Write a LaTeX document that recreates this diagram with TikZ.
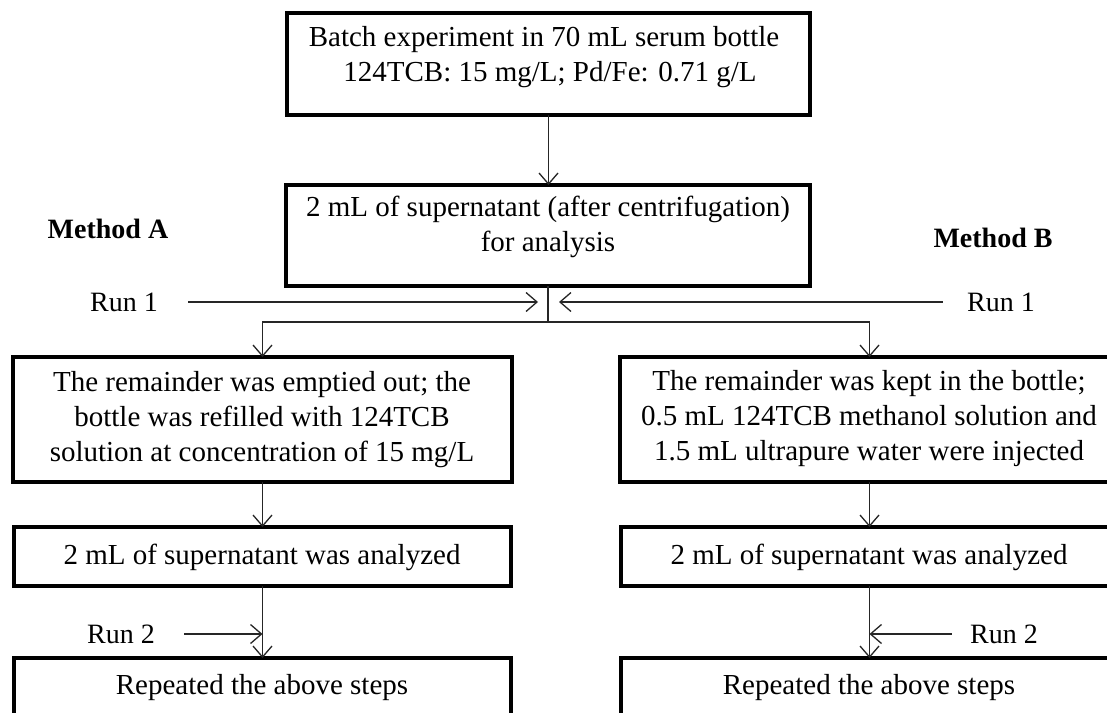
\documentclass[tikz,border=0pt]{standalone}
\usepackage{fontspec}
\setmainfont{Liberation Serif}
\usetikzlibrary{arrows.meta}
\begin{document}
\begin{tikzpicture}[x=1pt,y=-1pt,
  box/.style={draw=black, line width=3.5pt, anchor=north west, inner sep=0pt, outer sep=0pt},
  txt/.style={align=center, inner sep=0pt, font=\fontsize{29}{35}\selectfont},
  lbl/.style={inner sep=0pt, font=\fontsize{28}{34}\selectfont},
  blbl/.style={inner sep=0pt, font=\fontsize{28}{34}\selectfont\bfseries},
  arr/.style={draw=black!85, line width=1.3pt, -{Straight Barb[length=11pt,width=19pt,line width=1.3pt]}},
  ln/.style={draw=black!85, line width=1.3pt}]
\useasboundingbox (0,0) rectangle (1107,712);
\clip (0,0) rectangle (1107,712);
\fill[white] (0,0) rectangle (1107,712);
% boxes
\node[box, minimum width=523pt, minimum height=102pt] (b1) at (287,13) {};
\node[box, minimum width=524pt, minimum height=101pt] (b2) at (286,185) {};
\node[box, minimum width=499pt, minimum height=125pt] (a1) at (13,357) {};
\node[box, minimum width=499pt, minimum height=125pt] (m1) at (620,357) {};
\node[box, minimum width=497pt, minimum height=59pt] (a2) at (14,527) {};
\node[box, minimum width=497pt, minimum height=59pt] (m2) at (621,527) {};
\node[box, minimum width=497pt, minimum height=90pt] (a3) at (14,658) {};
\node[box, minimum width=497pt, minimum height=90pt] (m3) at (621,658) {};
% texts
\node[txt] (t1) at (544,57) {Batch experiment in 70 mL serum bottle\\\hspace*{12pt}124TCB: 15 mg/L; Pd/Fe: 0.71 g/L};
\node[txt] (t2) at (548,227) {2 mL of supernatant (after centrifugation)\\for analysis};
\node[txt] (ta1) at (262,420) {The remainder was emptied out; the\\bottle was refilled with 124TCB\\solution at concentration of 15 mg/L};
\node[txt] (tm1) at (869,419) {The remainder was kept in the bottle;\\0.5 mL 124TCB methanol solution and\\1.5 mL ultrapure water were injected};
\node[txt] (ta2) at (262,557) {2 mL of supernatant was analyzed};
\node[txt] (tm2) at (869,557) {2 mL of supernatant was analyzed};
\node[txt] (ta3) at (262,688) {Repeated the above steps};
\node[txt] (tm3) at (869,688) {Repeated the above steps};
\node[blbl] (ma) at (108,229) {Method A};
\node[blbl] (mb) at (993,238) {Method B};
\node[lbl] (r1a) at (124,302) {Run 1};
\node[lbl] (r1b) at (1001,302) {Run 1};
\node[lbl] (r2a) at (121,634) {Run 2};
\node[lbl] (r2b) at (1004,634) {Run 2};
% connectors
\coordinate (j) at (548,322);
\coordinate (r1aend) at (538,302);
\coordinate (r1bend) at (559,302);
\draw[arr] (b1.south) -- (b1.south |- b2.north);
\draw[ln] (b2.south) -- (j);
\draw[arr] (j) -| (a1.north);
\draw[arr] (j) -| (m1.north);
\draw[arr, shorten <=30pt] (r1a.east) -- (r1aend);
\draw[arr, shorten <=24pt] (r1b.west) -- (r1bend);
\draw[arr] (a1.south) -- (a1.south |- a2.north);
\draw[arr] (m1.south) -- (m1.south |- m2.north);
\draw[arr] (a2.south) -- (a2.south |- a3.north);
\draw[arr] (m2.south) -- (m2.south |- m3.north);
\draw[arr, shorten <=29pt] (r2a.east) -- (r2a.east -| a2.south);
\draw[arr, shorten <=18pt] (r2b.west) -- (r2b.west -| m2.south);
\end{tikzpicture}
\end{document}
